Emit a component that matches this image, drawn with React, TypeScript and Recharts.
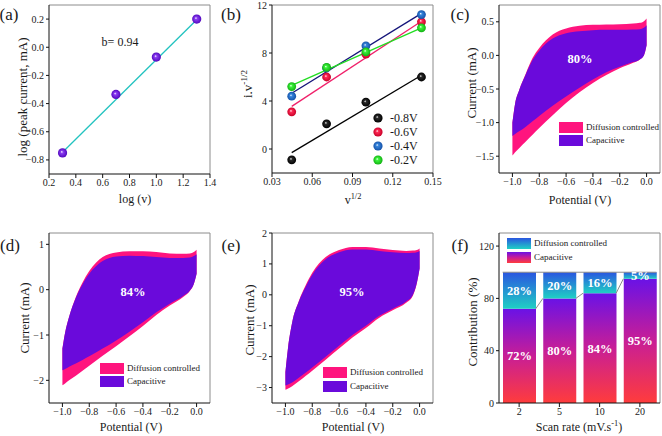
import React from 'react';
import {
  ComposedChart, Line, Scatter, Area, Bar, XAxis, YAxis, ReferenceLine, Legend, LabelList,
} from 'recharts';

const FONT = '"Liberation Serif", "Times New Roman", Times, serif';
const INK = '#1a1a1a';
const FRAME = '#8c8c8c';
const AXW = 45, AXH = 34, MT = 5;

// ---------- (a) log(peak current) vs log(scan rate)
const aLogScanRate = [0.301, 0.699, 1.0, 1.301];
const aLogPeakCurrent = [-0.75, -0.335, -0.07, 0.2];
const aFitX = [0.301, 1.301];
const aFitY = [-0.745, 0.195];
const aXTicks = [0.2, 0.4, 0.6, 0.8, 1.0, 1.2, 1.4];
const aYTicks = [-0.8, -0.6, -0.4, -0.2, 0, 0.2];

// ---------- (b) i.v^-1/2 vs v^1/2
const bSqrtScan = [0.0447, 0.0707, 0.1, 0.1414];
const bNames = ['-0.8V', '-0.6V', '-0.4V', '-0.2V'];
const bM08 = [-0.9, 2.1, 3.9, 6.0];
const bM06 = [3.1, 6.0, 7.9, 10.6];
const bM04 = [4.4, 6.75, 8.6, 11.2];
const bM02 = [5.2, 6.8, 8.1, 10.1];
const bFitX = [0.0447, 0.1414];
const bFit08 = [-0.3, 6.15];
const bFit06 = [3.55, 10.65];
const bFit04 = [4.65, 11.3];
const bFit02 = [5.3, 10.1];
const bXTicks = [0.03, 0.06, 0.09, 0.12, 0.15];
const bYTicks = [0, 4, 8, 12];

// ---------- CV loops (c, d, e)
const cvPotential = [-1.0, -0.98, -0.95, -0.9, -0.85, -0.8, -0.7, -0.6, -0.5, -0.4, -0.3, -0.2, -0.1, -0.05, -0.02, 0];
const cvXTicks = [-1.0, -0.8, -0.6, -0.4, -0.2, 0];

const cTotalUpper = [-1.0, -0.72, -0.52, -0.27, -0.04, 0.11, 0.31, 0.4, 0.44, 0.455, 0.46, 0.465, 0.475, 0.485, 0.51, 0.55];
const cTotalLower = [-1.49, -1.44, -1.38, -1.28, -1.18, -1.08, -0.89, -0.71, -0.55, -0.41, -0.29, -0.19, -0.11, -0.06, 0.0, 0.15];
const cCapUpper = [-1.0, -0.72, -0.52, -0.28, -0.07, 0.07, 0.25, 0.33, 0.36, 0.375, 0.38, 0.38, 0.385, 0.39, 0.41, 0.45];
const cCapLower = [-1.2, -1.17, -1.13, -1.06, -0.98, -0.9, -0.75, -0.61, -0.48, -0.36, -0.25, -0.17, -0.1, -0.06, 0.0, 0.15];
const cYTicks = [-1.5, -1.0, -0.5, 0, 0.5];

const dTotalUpper = [-1.3, -0.95, -0.6, -0.16, 0.16, 0.41, 0.72, 0.82, 0.85, 0.85, 0.83, 0.8, 0.79, 0.8, 0.83, 0.88];
const dTotalLower = [-2.11, -2.07, -2.0, -1.9, -1.79, -1.68, -1.46, -1.25, -1.03, -0.8, -0.56, -0.35, -0.16, -0.03, 0.13, 0.35];
const dCapUpper = [-1.3, -0.95, -0.6, -0.18, 0.12, 0.35, 0.63, 0.73, 0.75, 0.74, 0.72, 0.7, 0.7, 0.71, 0.74, 0.78];
const dCapLower = [-1.78, -1.75, -1.7, -1.63, -1.55, -1.47, -1.3, -1.12, -0.93, -0.72, -0.5, -0.31, -0.14, -0.02, 0.13, 0.35];
const dYTicks = [-2, -1, 0, 1];

const eTotalUpper = [-2.5, -1.7, -0.9, -0.2, 0.3, 0.71, 1.22, 1.45, 1.55, 1.55, 1.5, 1.45, 1.42, 1.43, 1.45, 1.5];
const eTotalLower = [-3.07, -3.03, -2.96, -2.8, -2.63, -2.46, -2.1, -1.74, -1.38, -1.07, -0.74, -0.5, -0.26, -0.03, 0.38, 0.85];
const eCapUpper = [-2.5, -1.7, -0.9, -0.22, 0.25, 0.65, 1.15, 1.38, 1.47, 1.47, 1.42, 1.38, 1.35, 1.36, 1.38, 1.42];
const eCapLower = [-2.93, -2.9, -2.84, -2.68, -2.52, -2.35, -2.0, -1.65, -1.3, -1.0, -0.68, -0.45, -0.22, 0.0, 0.4, 0.85];
const eYTicks = [-3, -2, -1, 0, 1, 2];

// ---------- (f) contributions
const fScanRates = ['2', '5', '10', '20'];
const fCapacitive = [72, 80, 84, 95];
const fDiffusion = [28, 20, 16, 5];
const fYTicks = [0, 40, 80, 120];

// ---------- helpers
type Box = { L: number; T: number; R: number; B: number };
const chartPos = (b: Box, mr: number) => ({
  left: b.L - AXW, top: b.T - MT,
  width: b.R - b.L + AXW + mr, height: b.B - b.T + MT + AXH, mr,
});

const fmt = (d: number) => (v: number) => Number(v).toFixed(d).replace('-', '\u2212');

const tickStyle = { fontFamily: FONT, fontSize: 10, fill: INK };
const axisStroke = { stroke: '#111', strokeWidth: 1 };
const xCommon: any = { tick: tickStyle, tickSize: 4, tickMargin: 1, height: AXH, axisLine: axisStroke, tickLine: axisStroke, allowDataOverflow: true, interval: 0 };
const yCommon: any = { tick: tickStyle, tickSize: 3, tickMargin: 2, width: AXW, axisLine: axisStroke, tickLine: axisStroke, allowDataOverflow: true, interval: 0 };

type Part = { t: string; sup?: boolean };
const Title = ({ x, y, parts, size, vertical }: { x: number; y: number; parts: Part[]; size: number; vertical?: boolean }) => {
  const shift = size * 0.4;
  let raised = false;
  const spans = parts.map((p, i) => {
    if (p.sup) { raised = true; return <tspan key={i} dy={-shift} fontSize={size * 0.7}>{p.t}</tspan>; }
    if (raised) { raised = false; return <tspan key={i} dy={shift}>{p.t}</tspan>; }
    return <tspan key={i}>{p.t}</tspan>;
  });
  const by = y + size * 0.34;
  return (
    <text x={x} y={by} textAnchor="middle" transform={vertical ? `rotate(-90 ${x} ${y})` : undefined}
      fontFamily={FONT} fontSize={size} fill={INK}>{spans}</text>
  );
};

const titleFn = (pos: { left: number; top: number }, px: number, py: number, parts: Part[], vertical = false) =>
  () => <Title x={px - pos.left} y={py - pos.top} parts={parts} size={vertical ? 13 : 12} vertical={vertical} />;

const frame = (xMax: number, yMax: number) => (
  <>
    <ReferenceLine y={yMax} stroke={FRAME} strokeWidth={1} ifOverflow="visible" />
    <ReferenceLine x={xMax} stroke={FRAME} strokeWidth={1} ifOverflow="visible" />
  </>
);

const sphere = (r: number, fill: string) => (p: any) => <circle cx={p.cx} cy={p.cy} r={r} fill={fill} />;

const SwatchLegend = (order: string[], pitch: number) => (props: any) => {
  const items = [...(props.payload || [])]
    .filter((it: any) => order.includes(it.value))
    .sort((a: any, b: any) => order.indexOf(a.value) - order.indexOf(b.value));
  return (
    <div style={{ fontFamily: FONT, fontSize: 9, color: INK }}>
      {items.map((it: any) => (
        <div key={it.value} style={{ display: 'flex', alignItems: 'center', height: 11, marginBottom: pitch - 11 }}>
          <svg width={24} height={11} style={{ display: 'block' }}><rect width={24} height={11} fill={it.color} /></svg>
          <span style={{ marginLeft: 3, lineHeight: '11px', whiteSpace: 'nowrap' }}>{it.value}</span>
        </div>
      ))}
    </div>
  );
};

const DotLegend = (props: any) => {
  const items = [...(props.payload || [])]
    .filter((it: any) => bNames.includes(it.value))
    .sort((a: any, b: any) => bNames.indexOf(a.value) - bNames.indexOf(b.value));
  return (
    <div style={{ fontFamily: FONT, fontSize: 12, color: INK }}>
      {items.map((it: any) => (
        <div key={it.value} style={{ display: 'flex', alignItems: 'center', height: 14 }}>
          <svg width={12} height={12} style={{ display: 'block' }}><circle cx={6} cy={6} r={4.6} fill={it.color} /></svg>
          <span style={{ marginLeft: 6, lineHeight: '14px', whiteSpace: 'nowrap' }}>{it.value}</span>
        </div>
      ))}
    </div>
  );
};

// ---------- panels
function PanelA() {
  const box = { L: 49, T: 5, R: 210, B: 174 };
  const pos = chartPos(box, 14);
  const pts = aLogScanRate.map((x, i) => ({ x, y: aLogPeakCurrent[i] }));
  const fit = aFitX.map((x, i) => ({ x, y: aFitY[i] }));
  return (
    <div style={{ position: 'absolute', left: pos.left, top: pos.top }}>
      <ComposedChart width={pos.width} height={pos.height} margin={{ top: MT, right: pos.mr, bottom: 0, left: 0 }}>
        <XAxis type="number" dataKey="x" domain={[0.2, 1.4]} ticks={aXTicks} tickFormatter={fmt(1)} {...xCommon}
          label={titleFn(pos, 135, 199, [{ t: 'log (v)' }])} />
        <YAxis type="number" dataKey="y" domain={[-0.9, 0.3]} ticks={aYTicks} tickFormatter={fmt(1)} {...yCommon}
          label={titleFn(pos, 23, 97, [{ t: 'log (peak current, mA)' }], true)} />
        {frame(1.4, 0.3)}
        <Line data={fit} dataKey="y" type="linear" stroke="#22C3C0" strokeWidth={1.3} dot={false} isAnimationActive={false} legendType="none" />
        <Scatter data={pts} dataKey="y" name="data" fill="url(#sph-purple)" shape={sphere(4.6, 'url(#sph-purple)')} isAnimationActive={false} />
      </ComposedChart>
    </div>
  );
}

function PanelB() {
  const box = { L: 272, T: 5, R: 433, B: 173 };
  const pos = chartPos(box, 14);
  const series = [
    { name: bNames[0], vals: bM08, fit: bFit08, grad: 'url(#sph-black)', line: '#000000' },
    { name: bNames[1], vals: bM06, fit: bFit06, grad: 'url(#sph-red)', line: '#F0206A' },
    { name: bNames[2], vals: bM04, fit: bFit04, grad: 'url(#sph-blue)', line: '#15157A' },
    { name: bNames[3], vals: bM02, fit: bFit02, grad: 'url(#sph-green)', line: '#22DD22' },
  ];
  return (
    <div style={{ position: 'absolute', left: pos.left, top: pos.top }}>
      <ComposedChart width={pos.width} height={pos.height} margin={{ top: MT, right: pos.mr, bottom: 0, left: 0 }}>
        <XAxis type="number" dataKey="x" domain={[0.03, 0.15]} ticks={bXTicks} tickFormatter={fmt(2)} {...xCommon}
          label={titleFn(pos, 353, 200, [{ t: 'v' }, { t: '1/2', sup: true }])} />
        <YAxis type="number" dataKey="y" domain={[-2, 12]} ticks={bYTicks} tickFormatter={fmt(0)} {...yCommon}
          label={titleFn(pos, 248, 84, [{ t: 'i.v' }, { t: '-1/2', sup: true }], true)} />
        {frame(0.15, 12)}
        {series.map((s) => (
          <Line key={'l' + s.name} data={bFitX.map((x, i) => ({ x, y: s.fit[i] }))} dataKey="y" type="linear"
            stroke={s.line} strokeWidth={1.3} dot={false} isAnimationActive={false} legendType="none" />
        ))}
        {series.map((s) => (
          <Scatter key={'s' + s.name} name={s.name} data={bSqrtScan.map((x, i) => ({ x, y: s.vals[i] }))} dataKey="y"
            fill={s.grad} shape={sphere(4.4, s.grad)} isAnimationActive={false} />
        ))}
        <Legend layout="vertical" align="center" verticalAlign="middle" content={DotLegend}
          wrapperStyle={{ left: 145, top: 111, width: 'auto', height: 'auto' }} />
      </ComposedChart>
    </div>
  );
}

function CVPanel(props: {
  box: Box; yDomain: [number, number]; yTicks: number[]; yDigits: number;
  totUp: number[]; totLo: number[]; capUp: number[]; capLo: number[];
  xTitle: [number, number]; yTitle: [number, number]; legend: [number, number]; pitch: number;
}) {
  const pos = chartPos(props.box, 2);
  const rows = cvPotential.map((v, i) => ({
    v, tot: [props.totLo[i], props.totUp[i]], cap: [props.capLo[i], props.capUp[i]],
  }));
  return (
    <div style={{ position: 'absolute', left: pos.left, top: pos.top }}>
      <ComposedChart width={pos.width} height={pos.height} data={rows} margin={{ top: MT, right: pos.mr, bottom: 0, left: 0 }}>
        <XAxis type="number" dataKey="v" domain={[-1.1, 0.1]} ticks={cvXTicks} tickFormatter={fmt(1)} {...xCommon}
          label={titleFn(pos, props.xTitle[0], props.xTitle[1], [{ t: 'Potential (V)' }])} />
        <YAxis type="number" domain={props.yDomain} ticks={props.yTicks} tickFormatter={fmt(props.yDigits)} {...yCommon}
          label={titleFn(pos, props.yTitle[0], props.yTitle[1], [{ t: 'Current (mA)' }], true)} />
        {frame(0.1, props.yDomain[1])}
        <Area dataKey="tot" name="Diffusion controlled" type="monotone" stroke="none" fill="#FF147E" fillOpacity={1} isAnimationActive={false} />
        <Area dataKey="cap" name="Capacitive" type="monotone" stroke="none" fill="#6A0ADB" fillOpacity={1} isAnimationActive={false} />
        <Legend layout="vertical" align="center" verticalAlign="middle"
          content={SwatchLegend(['Diffusion controlled', 'Capacitive'], props.pitch)}
          wrapperStyle={{ left: props.legend[0], top: props.legend[1], width: 'auto', height: 'auto' }} />
      </ComposedChart>
    </div>
  );
}

const F_BAR_PX = 33;
function PanelF() {
  const box = { L: 499, T: 233, R: 660, B: 403 };
  const pos = chartPos(box, 2);
  const rows = fScanRates.map((r, i) => ({ idx: i, rate: r, cap: fCapacitive[i], dif: fDiffusion[i] }));
  const bandPx = (box.R - box.L) / fScanRates.length;
  const half = F_BAR_PX / 2 / bandPx;
  const last = fScanRates.length - 1;
  return (
    <div style={{ position: 'absolute', left: pos.left, top: pos.top }}>
      <ComposedChart width={pos.width} height={pos.height} data={rows} margin={{ top: MT, right: pos.mr, bottom: 0, left: 0 }}>
        <XAxis type="number" dataKey="idx" domain={[-0.5, last + 0.5]} ticks={rows.map((r) => r.idx)}
          tickFormatter={(v: number) => fScanRates[v] ?? ''} {...xCommon}
          label={titleFn(pos, 579, 427, [{ t: 'Scan rate (mV.s' }, { t: '-1', sup: true }, { t: ')' }])} />
        <YAxis type="number" domain={[0, 130]} ticks={fYTicks} tickFormatter={fmt(0)} {...yCommon}
          label={titleFn(pos, 473, 322, [{ t: 'Contribution (%)' }], true)} />
        {frame(last + 0.5, 130)}
        <Bar dataKey="cap" name="Capacitive" stackId="s" barSize={F_BAR_PX} fill="url(#capGrad)" isAnimationActive={false}>
          <LabelList dataKey="cap" position="center" formatter={(v: any) => `${v}%`}
            fill="#ffffff" fontFamily={FONT} fontSize={12.5} fontWeight="bold" />
        </Bar>
        <Bar dataKey="dif" name="Diffusion controlled" stackId="s" barSize={F_BAR_PX} fill="url(#difGrad)" isAnimationActive={false}>
          <LabelList dataKey="dif" position="center" formatter={(v: any) => `${v}%`}
            fill="#ffffff" fontFamily={FONT} fontSize={12.5} fontWeight="bold" />
        </Bar>
        {fCapacitive.slice(0, last).map((c, i) => (
          <ReferenceLine key={'c' + i} stroke={FRAME} strokeWidth={1} ifOverflow="visible"
            segment={[{ x: i + half, y: c }, { x: i + 1 - half, y: fCapacitive[i + 1] }]} />
        ))}
        <ReferenceLine stroke={FRAME} strokeWidth={1} ifOverflow="visible"
          segment={[{ x: -half, y: fCapacitive[0] + fDiffusion[0] }, { x: last + half, y: fCapacitive[last] + fDiffusion[last] }]} />
        <Legend layout="vertical" align="center" verticalAlign="middle"
          content={SwatchLegend(['Diffusion controlled', 'Capacitive'], 14)}
          wrapperStyle={{ left: 53, top: 10, width: 'auto', height: 'auto' }} />
      </ComposedChart>
    </div>
  );
}

const Overlay = ({ x, y, children, style }: any) => (
  <div style={{
    position: 'absolute', left: x, top: y, transform: 'translate(-50%, -50%)', whiteSpace: 'nowrap',
    lineHeight: 1, fontFamily: FONT, color: INK, ...style,
  }}>{children}</div>
);

const sphereDefs: [string, string, string][] = [
  ['sph-purple', '#8B3DF2', '#5208BE'],
  ['sph-black', '#2a2a2a', '#000000'],
  ['sph-red', '#FF2A55', '#C80028'],
  ['sph-blue', '#3584DC', '#1552A8'],
  ['sph-green', '#3CF53C', '#12B012'],
];

export default function App() {
  return (
    <div style={{ position: 'absolute', left: 0, top: 0, width: 662, height: 436, background: '#ffffff', overflow: 'hidden', fontFamily: FONT }}>
      <style>{`.recharts-wrapper text, .recharts-legend-wrapper { font-family: "Liberation Serif", "Times New Roman", Times, serif; }`}</style>
      <svg width={0} height={0} style={{ position: 'absolute' }}>
        <defs>
          {sphereDefs.map(([id, c0, c1]) => (
            <radialGradient key={id} id={id} cx="0.5" cy="0.5" r="0.5" fx="0.4" fy="0.38">
              <stop offset="0" stopColor="#ffffff" />
              <stop offset="0.28" stopColor={c0} />
              <stop offset="1" stopColor={c1} />
            </radialGradient>
          ))}
          <linearGradient id="capGrad" x1="0" y1="1" x2="0" y2="0">
            <stop offset="0" stopColor="#FF3C3C" />
            <stop offset="0.5" stopColor="#C81E96" />
            <stop offset="1" stopColor="#6A12E6" />
          </linearGradient>
          <linearGradient id="difGrad" x1="0" y1="1" x2="0" y2="0">
            <stop offset="0" stopColor="#1FD0C4" />
            <stop offset="1" stopColor="#2A55E0" />
          </linearGradient>
        </defs>
      </svg>

      <PanelA />
      <PanelB />
      <CVPanel box={{ L: 499, T: 5, R: 660, B: 173 }} yDomain={[-1.75, 0.75]} yTicks={cYTicks} yDigits={1}
        totUp={cTotalUpper} totLo={cTotalLower} capUp={cCapUpper} capLo={cCapLower}
        xTitle={[580, 200]} yTitle={[472, 83]} legend={[105, 122]} pitch={13} />
      <CVPanel box={{ L: 49, T: 233, R: 210, B: 403 }} yDomain={[-2.5, 1.25]} yTicks={dYTicks} yDigits={0}
        totUp={dTotalUpper} totLo={dTotalLower} capUp={dCapUpper} capLo={dCapLower}
        xTitle={[131, 427]} yTitle={[25, 318]} legend={[96, 135]} pitch={13} />
      <CVPanel box={{ L: 272, T: 233, R: 433, B: 403 }} yDomain={[-3.5, 2]} yTicks={eYTicks} yDigits={0}
        totUp={eTotalUpper} totLo={eTotalLower} capUp={eCapUpper} capLo={eCapLower}
        xTitle={[353, 427]} yTitle={[250, 320]} legend={[96, 139]} pitch={14} />
      <PanelF />

      <Overlay x={9} y={14} style={{ fontSize: 17 }}>(a)</Overlay>
      <Overlay x={231} y={14} style={{ fontSize: 17 }}>(b)</Overlay>
      <Overlay x={460} y={14} style={{ fontSize: 17 }}>(c)</Overlay>
      <Overlay x={10} y={245} style={{ fontSize: 17 }}>(d)</Overlay>
      <Overlay x={231} y={245} style={{ fontSize: 17 }}>(e)</Overlay>
      <Overlay x={460} y={245} style={{ fontSize: 17 }}>(f)</Overlay>

      <Overlay x={120} y={42} style={{ fontSize: 12 }}>b= 0.94</Overlay>
      <Overlay x={580} y={59} style={{ fontSize: 12.5, fontWeight: 'bold', color: '#fff' }}>80%</Overlay>
      <Overlay x={133} y={292} style={{ fontSize: 12.5, fontWeight: 'bold', color: '#fff' }}>84%</Overlay>
      <Overlay x={352} y={292} style={{ fontSize: 12.5, fontWeight: 'bold', color: '#fff' }}>95%</Overlay>
    </div>
  );
}
